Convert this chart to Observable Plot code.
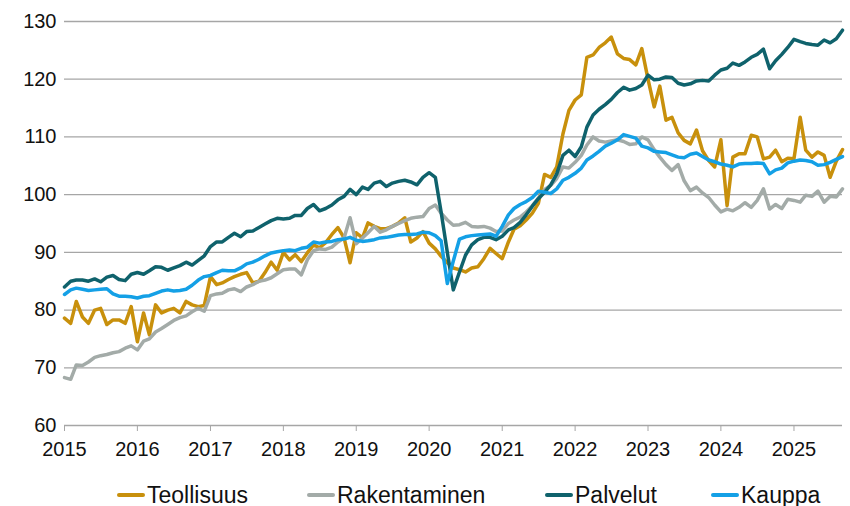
<!DOCTYPE html>
<html>
<head>
<meta charset="utf-8">
<script src="https://cdn.jsdelivr.net/npm/d3@7"></script>
<script src="https://cdn.jsdelivr.net/npm/@observablehq/plot@0.6"></script>
<style>
  body { margin: 0; background: #fff; font-family: "Liberation Sans", Arial, sans-serif; }
  #chart { position: relative; width: 850px; height: 506px; }
  .legend { position: absolute; left: 0; top: 478px; width: 850px; height: 34px; }
  .item { position: absolute; top: 0; display: flex; align-items: center; height: 34px; font-size: 23px; color: #111; }
  .sw { display: inline-block; width: 28px; height: 4px; border-radius: 2px; margin-right: 2px; }
</style>
</head>
<body>
<div id="chart"></div>
<script>
const seriesNames = ["Teollisuus", "Rakentaminen", "Palvelut", "Kauppa"];
const colors = ["#c8900c", "#a3aba8", "#0f626c", "#14a0e6"];
const years = [2015, 2016, 2017, 2018, 2019, 2020, 2021, 2022, 2023, 2024, 2025];
const yTicks = [60, 70, 80, 90, 100, 110, 120, 130];
// monthly values Jan 2015 .. Sep 2025
const teollisuus = [
  78.6, 77.7, 81.5, 78.8, 77.7, 80.0, 80.3, 77.5, 78.3, 78.3, 77.7, 80.6,
  74.5, 79.5, 75.7, 80.9, 79.5, 80.0, 80.3, 79.5, 81.5, 80.9, 80.6, 80.8,
  85.8, 84.4, 84.7, 85.3, 85.8, 86.2, 86.5, 84.7, 85.0, 86.5, 88.3, 86.9,
  90.0, 88.7, 89.6, 88.4, 89.9, 91.3, 90.8, 91.7, 93.1, 94.3, 92.5, 88.2,
  93.4, 92.5, 95.1, 94.5, 94.1, 94.1, 94.5, 95.1, 96.0, 91.8, 92.5, 93.6,
  91.6, 90.6, 89.3, 88.2, 87.3, 87.0, 86.6, 87.3, 87.5, 88.9, 90.7, 89.8,
  88.9, 91.8, 94.0, 94.6, 95.6, 96.8, 98.5, 103.5, 103.0, 104.8, 110.5, 114.6,
  116.4, 117.3, 123.8, 124.2, 125.5, 126.3, 127.3, 124.4, 123.6, 123.4, 122.5, 125.3,
  120.0, 115.2, 118.8, 112.9, 113.4, 110.7, 109.4, 108.8, 111.2, 107.6, 105.9, 104.8,
  109.5, 98.1, 106.5, 107.1, 107.1, 110.3, 110.0, 106.2, 106.5, 107.7, 105.7, 106.3,
  106.2, 113.4, 107.7, 106.5, 107.4, 106.8, 103.0, 105.8, 107.8
];
const rakentaminen = [
  68.3, 68.0, 70.5, 70.4, 71.0, 71.8, 72.1, 72.3, 72.6, 72.8, 73.4, 73.8,
  73.1, 74.6, 75.0, 76.2, 76.8, 77.5, 78.2, 78.7, 79.0, 79.7, 80.3, 79.8,
  82.5, 82.8, 82.9, 83.5, 83.7, 83.2, 84.0, 84.4, 85.0, 85.2, 85.6, 86.3,
  87.0, 87.1, 87.1, 86.1, 88.7, 90.3, 90.6, 90.5, 90.9, 91.8, 92.5, 96.0,
  91.5, 92.5, 93.4, 94.5, 93.5, 93.9, 94.5, 95.0, 95.5, 95.9, 96.1, 96.2,
  97.6, 98.2, 96.8, 95.6, 94.7, 94.8, 95.2, 94.5, 94.4, 94.5, 94.2, 93.6,
  93.7, 95.0, 95.6, 96.1, 97.0, 98.1, 99.4, 100.9, 101.6, 102.8, 104.8, 104.6,
  105.6, 106.8, 108.6, 110.0, 109.3, 109.1, 109.3, 109.5, 109.2, 108.7, 108.8, 110.0,
  109.5, 107.8, 106.5, 105.2, 104.2, 105.2, 102.4, 100.7, 101.3, 100.3, 99.5, 98.2,
  97.0, 97.5, 97.2, 97.8, 98.6, 97.8, 99.0, 101.0, 97.5, 98.3, 97.6, 99.2,
  99.0, 98.7, 99.9, 99.7, 100.6, 98.7, 99.7, 99.6, 101.0
];
const palvelut = [
  84.0, 85.0, 85.2, 85.2, 85.0, 85.4, 84.9, 85.7, 86.0, 85.3, 85.1, 86.2,
  86.5, 86.2, 86.8, 87.5, 87.4, 86.9, 87.3, 87.7, 88.3, 87.8, 88.6, 89.4,
  91.0, 91.8, 91.8, 92.6, 93.3, 92.7, 93.6, 93.7, 94.3, 94.9, 95.5, 95.9,
  95.8, 95.9, 96.4, 96.4, 97.6, 98.3, 97.2, 97.6, 98.2, 99.1, 99.7, 100.9,
  100.0, 101.3, 100.9, 102.0, 102.3, 101.4, 102.0, 102.3, 102.5, 102.2, 101.7, 103.0,
  103.8, 103.0, 97.0, 90.0, 83.5, 86.6, 89.5, 91.3, 92.2, 92.6, 92.6, 92.2,
  92.8, 93.9, 94.3, 95.2, 96.5, 98.0, 99.3, 100.4, 101.7, 103.6, 106.8, 107.7,
  106.6, 108.3, 111.7, 113.8, 114.8, 115.6, 116.5, 117.7, 118.6, 118.1, 118.4, 119.0,
  120.7, 119.9, 120.0, 120.4, 120.3, 119.3, 119.0, 119.2, 119.7, 119.8, 119.7, 120.7,
  121.6, 121.9, 122.8, 122.4, 123.0, 123.8, 124.3, 125.2, 121.8, 123.2, 124.3, 125.5,
  126.9, 126.5, 126.2, 126.0, 125.9, 126.8, 126.3, 127.0, 128.5
];
const kauppa = [
  82.7, 83.5, 83.8, 83.6, 83.4, 83.5, 83.6, 83.7, 82.8, 82.4, 82.4, 82.3,
  82.1, 82.4, 82.5, 82.9, 83.3, 83.5, 83.3, 83.4, 83.6, 84.3, 85.2, 85.8,
  86.0, 86.5, 86.9, 86.8, 86.8, 87.3, 88.0, 88.3, 88.8, 89.4, 89.9, 90.1,
  90.3, 90.4, 90.3, 90.7, 90.9, 91.8, 91.6, 91.8, 91.9, 92.2, 92.3, 92.6,
  92.1, 91.9, 92.0, 92.2, 92.5, 92.6, 92.8, 93.0, 93.1, 93.1, 93.2, 93.5,
  93.4, 92.9, 92.0, 84.6, 88.5, 92.3, 92.7, 92.9, 93.0, 93.1, 93.2, 92.8,
  94.5, 96.5, 97.6, 98.3, 98.8, 99.5, 100.6, 100.4, 100.2, 101.0, 102.5, 103.0,
  103.7, 104.6, 106.0, 106.7, 107.5, 108.4, 108.9, 109.5, 110.4, 110.1, 109.8, 108.4,
  108.1, 107.5, 107.4, 107.3, 106.9, 106.5, 106.4, 107.0, 107.2, 106.6, 106.0, 105.7,
  105.3, 105.1, 104.8, 105.3, 105.4, 105.4, 105.5, 105.4, 103.6, 104.3, 104.6, 105.5,
  105.8, 106.0, 105.9, 105.7, 105.1, 105.2, 105.6, 106.1, 106.6
];

const allSeries = [teollisuus, rakentaminen, palvelut, kauppa];
const data = [];
allSeries.forEach((vals, s) => {
  vals.forEach((v, i) => {
    data.push({series: seriesNames[s], date: new Date(Date.UTC(2015, i, 1)), value: v});
  });
});
const lastDate = new Date(Date.UTC(2015, teollisuus.length - 1, 1));
const yearDates = years.map(y => new Date(Date.UTC(y, 0, 1)));

const chart = Plot.plot({
  width: 850,
  height: 465,
  marginLeft: 64,
  marginRight: 8,
  marginTop: 21,
  marginBottom: 40,
  style: {fontFamily: "'Liberation Sans', Arial, sans-serif", fontSize: "20px", color: "#111", background: "white"},
  x: {type: "utc", domain: [new Date(Date.UTC(2015, 0, 1)), lastDate]},
  y: {domain: [60, 130]},
  color: {domain: seriesNames, range: colors},
  marks: [
    Plot.ruleY(yTicks, {stroke: "#a6a6a6", strokeWidth: 1.3}),
    Plot.axisY({ticks: yTicks, tickSize: 0, tickPadding: 8, fontSize: 20, label: null}),
    Plot.axisX({ticks: yearDates, tickFormat: d => String(d.getUTCFullYear()), tickSize: 6, tickPadding: 10, stroke: "#a6a6a6", fontSize: 20, label: null}),
    Plot.line(data, {x: "date", y: "value", z: "series", stroke: "series", strokeWidth: 3.5, strokeLinejoin: "round", strokeLinecap: "round"})
  ]
});
const root = document.getElementById("chart");
root.appendChild(chart);

const legend = document.createElement("div");
legend.className = "legend";
const lefts = [117, 307, 545, 711];
seriesNames.forEach((name, i) => {
  const it = document.createElement("div");
  it.className = "item";
  it.style.left = lefts[i] + "px";
  const sw = document.createElement("span");
  sw.className = "sw";
  sw.style.background = colors[i];
  it.appendChild(sw);
  const t = document.createElement("span");
  t.textContent = name;
  it.appendChild(t);
  legend.appendChild(it);
});
root.appendChild(legend);
</script>
</body>
</html>
